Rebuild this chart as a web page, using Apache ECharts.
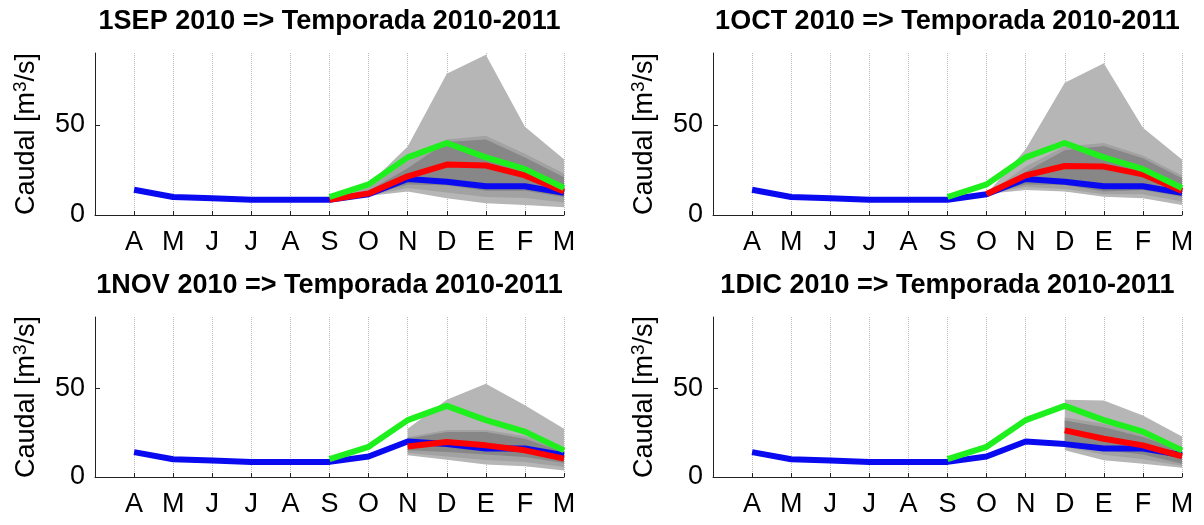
<!DOCTYPE html>
<html><head><meta charset="utf-8">
<script src="https://cdn.jsdelivr.net/npm/echarts@6/dist/echarts.min.js"></script>
<style>html,body{margin:0;padding:0;background:#fff}#c{width:1204px;height:525px}</style>
</head><body><div id="c"></div><script>
// ---------- data ----------
const months = ['A','M','J','J','A','S','O','N','D','E','F','M'];
const titles = ['1SEP 2010 => Temporada 2010-2011','1OCT 2010 => Temporada 2010-2011',
                '1NOV 2010 => Temporada 2010-2011','1DIC 2010 => Temporada 2010-2011'];
const yTicks = [0, 50];
// observed flow, A..M
const observed = [14, 10, 9.3, 8.5, 8.5, 8.5, 11.5, 20, 18.5, 16, 16, 12.3];
// green reference line, from S (month 6) to M
const greenStart = 6;
const greenLine = [10, 17, 32, 40, 32, 25.5, 15];

// panel 1: 1SEP, forecast from S
const sepStart = 6;
const sepMedian = [8.5, 12, 21.5, 28, 27.5, 22, 13];
const sepMaxHi  = [8.5, 17, 38, 78.5, 89, 49, 31];
const sepMaxLo  = [8.5, 10.5, 13, 9.3, 6.5, 5.6, 4.3];
const sepMidHi  = [8.5, 15, 30, 42, 44, 34, 23];
const sepMidLo  = [8.5, 10.8, 15, 12.5, 10, 9.5, 7];
const sepIqrHi  = [8.5, 13.5, 26, 40.5, 42, 32, 21];
const sepIqrLo  = [8.5, 11, 17, 16.5, 13.5, 13.5, 10];

// panel 2: 1OCT, forecast from O
const octStart = 7;
const octMedian = [11.7, 22, 27.2, 26.9, 22.6, 13.3];
const octMaxHi  = [11.7, 36.5, 73.5, 84.3, 48.5, 30.9];
const octMaxLo  = [11.7, 13.9, 13, 10.2, 9.3, 5.6];
const octMidHi  = [11.7, 27, 38, 40, 33, 22];
const octMidLo  = [11.7, 15.5, 14.5, 11.5, 11.5, 7.5];
const octIqrHi  = [11.7, 24, 36, 38.3, 31.5, 20.4];
const octIqrLo  = [11.7, 17, 16.7, 13, 13.9, 10.2];

// panel 3: 1NOV, forecast from N
const novStart = 8;
const novMedian = [17.2, 19.7, 17.8, 15, 10.3];
const novMaxHi  = [27.2, 43.4, 52.4, 40.3, 27.2];
const novMaxLo  = [12.2, 9.7, 7.1, 6, 3.7];
const novMidHi  = [22.5, 26.5, 26.5, 23, 15.5];
const novMidLo  = [13.5, 11.5, 9.5, 8.5, 5.6];
const novIqrHi  = [21.5, 25.3, 25.3, 21.5, 14];
const novIqrLo  = [15, 14, 12.7, 11.2, 7.9];

// panel 4: 1DIC, forecast from D
const dicStart = 9;
const dicMedian = [26.2, 21.5, 17.8, 11.6];
const dicMaxHi  = [43.4, 43, 34.6, 22.8];
const dicMaxLo  = [15, 9.4, 7.5, 5.2];
const dicMidHi  = [33.5, 30, 24.5, 17];
const dicMidLo  = [17, 12.5, 10, 6.3];
const dicIqrHi  = [31.8, 28, 22.5, 15];
const dicIqrLo  = [18.7, 15, 12.7, 7.5];

// ---------- layout ----------
const FONT = 'Liberation Sans, Arial, Helvetica, sans-serif';
const panels = [
  {title: titles[0], left: 95,  top: 53,  height: 162, start: sepStart, med: sepMedian, maxHi: sepMaxHi, maxLo: sepMaxLo, midHi: sepMidHi, midLo: sepMidLo, iqrHi: sepIqrHi, iqrLo: sepIqrLo},
  {title: titles[1], left: 713, top: 53,  height: 162, start: octStart, med: octMedian, maxHi: octMaxHi, maxLo: octMaxLo, midHi: octMidHi, midLo: octMidLo, iqrHi: octIqrHi, iqrLo: octIqrLo},
  {title: titles[2], left: 95,  top: 317, height: 160, start: novStart, med: novMedian, maxHi: novMaxHi, maxLo: novMaxLo, midHi: novMidHi, midLo: novMidLo, iqrHi: novIqrHi, iqrLo: novIqrLo},
  {title: titles[3], left: 713, top: 317, height: 160, start: dicStart, med: dicMedian, maxHi: dicMaxHi, maxLo: dicMaxLo, midHi: dicMidHi, midLo: dicMidLo, iqrHi: dicIqrHi, iqrLo: dicIqrLo}
];
const W = 469;

function pairs(start, arr) { return arr.map((v, i) => [start + i, v]); }

function band(k, start, lo, hi, color, z) {
  return {
    type: 'custom', xAxisIndex: k, yAxisIndex: k, silent: true, z: z,
    data: [[start, hi[0]]],
    renderItem: function (params, api) {
      const pts = [];
      for (let i = 0; i < hi.length; i++) pts.push(api.coord([start + i, hi[i]]));
      for (let i = lo.length - 1; i >= 0; i--) pts.push(api.coord([start + i, lo[i]]));
      return {type: 'polygon', shape: {points: pts}, style: {fill: color, stroke: null}};
    }
  };
}
function line(k, data, color, z) {
  return {type: 'line', xAxisIndex: k, yAxisIndex: k, data: data, symbol: 'none', silent: true,
          z: z, animation: false, lineStyle: {color: color, width: 6, join: 'round'}};
}

const grid = [], xAxis = [], yAxis = [], series = [], graphic = [];
panels.forEach((p, k) => {
  grid.push({left: p.left, top: p.top, width: W, height: p.height, containLabel: false});
  xAxis.push({
    type: 'value', gridIndex: k, min: 0, max: 12, interval: 1,
    axisLine: {show: true, onZero: false, lineStyle: {color: '#222', width: 1}},
    axisTick: {show: true, inside: true, length: 4, lineStyle: {color: '#222'}},
    axisLabel: {formatter: v => (v >= 1 && v <= 12) ? months[v - 1] : '', fontSize: 27,
                color: '#000', margin: 14, fontFamily: FONT, showMinLabel: true, showMaxLabel: true},
    splitLine: {show: true, lineStyle: {type: 'dotted', color: '#b8b8b8', width: 1}}
  });
  yAxis.push({
    type: 'value', gridIndex: k, min: 0, max: 90, interval: 50,
    axisLine: {show: true, onZero: false, lineStyle: {color: '#222', width: 1}},
    axisTick: {show: true, inside: true, length: 5, customValues: yTicks, lineStyle: {color: '#222'}},
    axisLabel: {fontSize: 27, color: '#000', margin: 10, fontFamily: FONT, customValues: yTicks},
    splitLine: {show: true, showMaxLine: false, lineStyle: {type: 'dotted', color: '#b8b8b8', width: 1}},
    name: '{a|Caudal [m}{s|3}{a|/s]}', nameLocation: 'middle', nameGap: 52, nameRotate: 90,
    nameTextStyle: {rich: {
      a: {fontSize: 27, fontFamily: FONT, color: '#000', lineHeight: 32},
      s: {fontSize: 19, fontFamily: FONT, color: '#000', lineHeight: 32, verticalAlign: 'top'}
    }}
  });
  series.push(band(k, p.start, p.maxLo, p.maxHi, '#b6b6b6', 1));
  series.push(band(k, p.start, p.midLo, p.midHi, '#a2a2a2', 2));
  series.push(band(k, p.start, p.iqrLo, p.iqrHi, '#878787', 3));
  series.push(line(k, pairs(1, observed), '#0a0af0', 4));
  series.push(line(k, pairs(p.start, p.med), '#ff0000', 5));
  series.push(line(k, pairs(greenStart, greenLine), '#1ef01e', 6));
  graphic.push({type: 'text', x: p.left + W / 2, y: p.top - 31, silent: true,
    style: {text: p.title, font: 'bold 27px ' + FONT, fill: '#000', textAlign: 'center', textVerticalAlign: 'middle'}});
});

const chart = echarts.init(document.getElementById('c'), null, {renderer: 'canvas'});
chart.setOption({animation: false, grid, xAxis, yAxis, series, graphic});
</script></body></html>
